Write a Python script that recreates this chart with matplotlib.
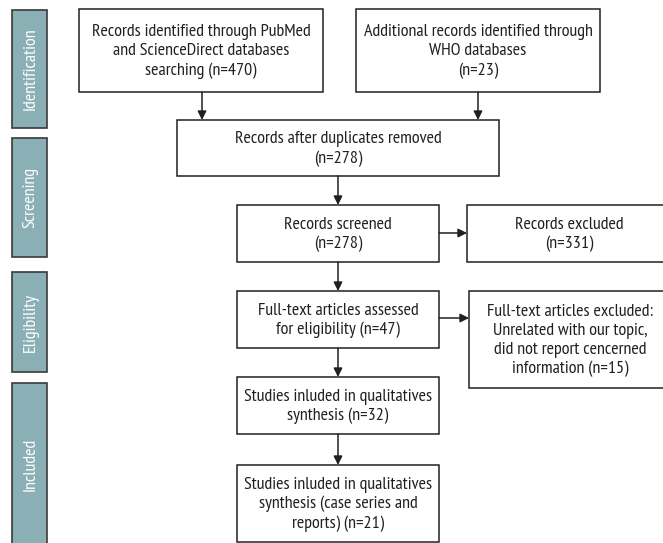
import matplotlib.pyplot as plt
from matplotlib.patches import Rectangle
from matplotlib import font_manager

# PRISMA flow diagram (reconstructed)

stage_labels = ['Identification', 'Screening', 'Eligibility', 'Included']

box_texts = [
    'Records identified through PubMed\nand ScienceDirect databases\nsearching (n=470)',
    'Additional records identified through\nWHO databases\n(n=23)',
    'Records after duplicates removed\n(n=278)',
    'Records screened\n(n=278)',
    'Records excluded\n(n=331)',
    'Full-text articles assessed\nfor eligibility (n=47)',
    'Full-text articles excluded:\nUnrelated with our topic,\ndid not report cencerned\ninformation (n=15)',
    'Studies inluded in qualitatives\nsynthesis (n=32)',
    'Studies inluded in qualitatives\nsynthesis (case series and\nreports) (n=21)',
]

# condensed font close to the original
names = {f.name for f in font_manager.fontManager.ttflist}
candidates = ['PT Sans Narrow', 'Fira Sans Condensed', 'Asap Condensed']
font_name = next((c for c in candidates if c in names), 'DejaVu Sans')
plt.rcParams['font.family'] = [font_name, 'DejaVu Sans']
fsize = 13

W, H = 663, 543
fig = plt.figure(figsize=(W / 100, H / 100), dpi=100)
ax = fig.add_axes([0, 0, 1, 1])
ax.set_xlim(0, W)
ax.set_ylim(H, 0)
ax.axis('off')

edge = '#231f20'
side_col = '#8ab0b6'

# side stage bars (x0, y0, x1, y1)
side_boxes = [(12, 10, 47, 128), (12, 138, 47, 257), (12, 272, 47, 372), (12, 383, 47, 545)]
for (x0, y0, x1, y1), lab in zip(side_boxes, stage_labels):
    ax.add_patch(Rectangle((x0, y0), x1 - x0, y1 - y0, facecolor=side_col,
                           edgecolor='#3a3a3a', lw=1.2))
    ax.text((x0 + x1) / 2 + 1, (y0 + y1) / 2, lab, rotation=90, color='white',
            ha='center', va='center', fontsize=fsize)

# main boxes
boxes = [
    (79, 9, 323, 92),
    (356, 9, 600, 92),
    (177, 120, 499, 176),
    (237, 205, 439, 262),
    (467, 205, 672, 262),
    (237, 291, 439, 348),
    (469, 291, 672, 388),
    (237, 377, 439, 434),
    (237, 465, 439, 542),
]
for (x0, y0, x1, y1), txt in zip(boxes, box_texts):
    ax.add_patch(Rectangle((x0, y0), x1 - x0, y1 - y0, facecolor='white',
                           edgecolor=edge, lw=1.1))
    ax.text((x0 + x1) / 2, (y0 + y1) / 2 + 1, txt, ha='center', va='center',
            fontsize=fsize, color=edge, linespacing=1.25)


def arrow(x0, y0, x1, y1):
    ax.annotate('', xy=(x1, y1), xytext=(x0, y0),
                arrowprops=dict(arrowstyle='-|>', color=edge, lw=1.1,
                                mutation_scale=13, shrinkA=0, shrinkB=0))


arrow(202, 92, 202, 120)
arrow(478, 92, 478, 120)
arrow(338, 176, 338, 205)
arrow(338, 262, 338, 291)
arrow(338, 348, 338, 377)
arrow(338, 434, 338, 465)
arrow(439, 233, 467, 233)
arrow(439, 318, 469, 318)

fig.savefig('out.png', dpi=100)
